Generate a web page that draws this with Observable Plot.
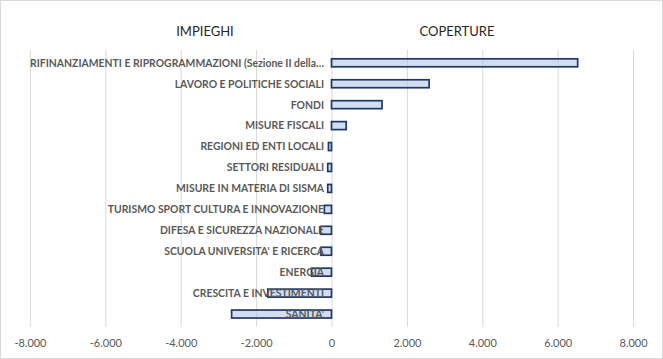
<!DOCTYPE html>
<html><head><meta charset="utf-8">
<script src="https://cdn.jsdelivr.net/npm/d3@7"></script>
<script src="https://cdn.jsdelivr.net/npm/@observablehq/plot@0.6"></script>
<style>
body{margin:0;background:#fff;}
#wrap{position:relative;width:661px;height:357px;border:1px solid #d9d9d9;overflow:hidden;background:#fff;}
#wrap svg{position:absolute;left:-1px;top:-1px;}
.ttl{position:absolute;top:22px;font-family:Lato,"Open Sans",sans-serif;font-size:13px;color:#262626;transform:translateX(-50%);}
</style></head>
<body>
<div id="wrap">
<div class="ttl" style="left:204px">IMPIEGHI</div>
<div class="ttl" style="left:456px">COPERTURE</div>
</div>
<script>
const categories = [
  "RIFINANZIAMENTI E RIPROGRAMMAZIONI (Sezione II della…",
  "LAVORO E POLITICHE SOCIALI",
  "FONDI",
  "MISURE FISCALI",
  "REGIONI ED ENTI LOCALI",
  "SETTORI RESIDUALI",
  "MISURE IN MATERIA DI SISMA",
  "TURISMO SPORT CULTURA E INNOVAZIONE",
  "DIFESA E SICUREZZA NAZIONALE",
  "SCUOLA UNIVERSITA' E RICERCA",
  "ENERGIA",
  "CRESCITA E INVESTIMENTI",
  "SANITA'"
];
const values = [6530, 2590, 1340, 390, -80, -100, -100, -190, -290, -280, -530, -1690, -2650];
const tickValues = [-8000, -6000, -4000, -2000, 0, 2000, 4000, 6000, 8000];

const data = categories.map((c, i) => ({cat: c, v: values[i]}));
const it = d3.formatLocale({decimal: ",", thousands: ".", grouping: [3], currency: ["€", ""], minus: "-"});
const fmt = it.format(",d");

const chart = Plot.plot({
  width: 663,
  height: 359,
  marginLeft: 30,
  marginRight: 28,
  marginTop: 50,
  marginBottom: 31,
  style: {fontFamily: "Lato, 'Open Sans', sans-serif", background: "transparent"},
  x: {domain: [-8000, 8000], ticks: tickValues, tickFormat: fmt, label: null},
  y: {domain: categories, paddingInner: 0.6, paddingOuter: 0.3, axis: null, label: null},
  marks: [
    Plot.ruleX(tickValues, {stroke: "#d9d9d9", strokeWidth: 1}),
    Plot.barX(data, {x: "v", y: "cat", fill: "#b4c7e7", fillOpacity: 0.6, stroke: "#1f3864", strokeWidth: 1.7}),
    Plot.text(data, {x: () => 0, y: "cat", text: "cat", textAnchor: "end", dx: -8,
      fill: "#595959", fontWeight: "bold", fontSize: 10.45}),
    Plot.axisX({ticks: tickValues, tickFormat: fmt, tickSize: 0, tickPadding: 12,
      fontSize: 11, color: "#595959", label: null})
  ]
});
document.getElementById("wrap").appendChild(chart);
</script>
</body></html>
